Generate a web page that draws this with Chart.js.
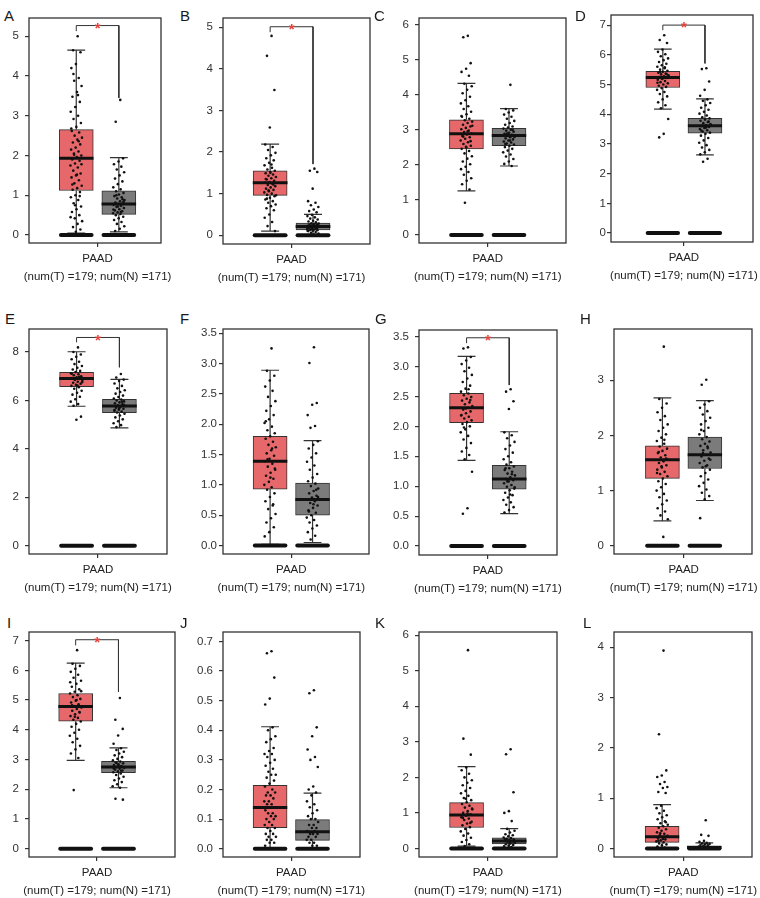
<!DOCTYPE html>
<html><head><meta charset="utf-8">
<script src="https://cdn.jsdelivr.net/npm/chart.js@4.4.1/dist/chart.umd.min.js"></script>
<style>
body{margin:0;background:#fff;width:760px;height:898px;position:relative;overflow:hidden;font-family:'Liberation Sans',Arial,Helvetica,sans-serif;}
canvas{position:absolute;}
.lt{position:absolute;font-size:15px;line-height:15px;color:#1a1a1a;font-family:'Liberation Sans',Arial,sans-serif;}
</style></head><body>
<script>
// ---------- data ----------
const panelLetters = ['A','B','C','D','E','F','G','H','I','J','K','L'];
const xTickLabel = ['PAAD', '(num(T) =179; num(N) =171)'];
const yTickLabels = [
  ['0','1','2','3','4','5'],
  ['0','1','2','3','4','5'],
  ['0','1','2','3','4','5','6'],
  ['0','1','2','3','4','5','6','7'],
  ['0','2','4','6','8'],
  ['0.0','0.5','1.0','1.5','2.0','2.5','3.0','3.5'],
  ['0.0','0.5','1.0','1.5','2.0','2.5','3.0','3.5'],
  ['0','1','2','3'],
  ['0','1','2','3','4','5','6','7'],
  ['0.0','0.1','0.2','0.3','0.4','0.5','0.6','0.7'],
  ['0','1','2','3','4','5','6'],
  ['0','1','2','3','4']
];
const tumorQ1     = [1.12, 0.96, 2.46, 4.90, 6.57, 0.93, 2.06, 1.22, 4.29, 0.071, 0.59, 0.12];
const tumorMedian = [1.93, 1.26, 2.89, 5.24, 6.91, 1.39, 2.31, 1.56, 4.78, 0.139, 0.94, 0.23];
const tumorQ3     = [2.65, 1.55, 3.29, 5.44, 7.16, 1.80, 2.55, 1.81, 5.22, 0.214, 1.29, 0.44];
const tumorLow    = [0.05, 0.10, 1.26, 4.17, 5.76, 0.02, 1.43, 0.45, 2.97, 0, 0.065, 0];
const tumorHigh   = [4.65, 2.19, 4.33, 6.19, 8.01, 2.89, 3.17, 2.68, 6.24, 0.412, 2.30, 0.87];
const normalQ1     = [0.52, 0.13, 2.55, 3.36, 5.50, 0.50, 0.95, 1.40, 2.56, 0.028, 0.13, 0.0];
const normalMedian = [0.78, 0.21, 2.84, 3.61, 5.77, 0.76, 1.12, 1.65, 2.75, 0.057, 0.21, 0.02];
const normalQ3     = [1.11, 0.29, 3.05, 3.86, 6.05, 1.03, 1.35, 1.97, 2.94, 0.098, 0.30, 0.05];
const normalLow    = [0.08, 0, 1.97, 2.63, 4.87, 0.05, 0.54, 0.82, 2.05, 0, 0.02, 0];
const normalHigh   = [1.95, 0.50, 3.61, 4.52, 6.87, 1.73, 1.91, 2.63, 3.39, 0.188, 0.56, 0.11];
// significance bracket (value units): top line, left leg end, right leg end
const sigTop      = [5.27, 5.01, null, 7.00, 8.60, null, 3.48, null, 7.03, null, null, null];
const sigLeftEnd  = [5.13, 4.88, null, 6.83, 8.40, null, 3.39, null, 6.84, null, null, null];
const sigRightEnd = [3.45, 1.71, null, 5.71, 7.37, null, 2.69, null, 5.27, null, null, null];

const tumorPoints = [
  [5.0,4.65,4.6,4.3,4.2,3.95,3.88,3.75,3.6,3.48,3.35,3.22,3.1,3.0,2.92,2.82,2.72,2.62,2.58,2.5,2.45,2.4,2.33,2.28,2.2,2.15,2.1,2.05,2.0,1.96,1.9,1.87,1.8,1.75,1.7,1.62,1.55,1.5,1.45,1.38,1.3,1.24,1.18,1.14,1.08,1.0,0.95,0.88,0.8,0.72,0.65,0.58,0.5,0.42,0.35,0.28,0.2,0.14,0.08,2.68,2.36,2.02,1.78,1.52,1.27,0.98,0.75,0.45,3.52,4.05],
  [4.79,4.31,3.49,2.59,2.18,2.12,2.05,1.98,1.92,1.85,1.8,1.74,1.68,1.62,1.58,1.55,1.52,1.49,1.46,1.43,1.4,1.37,1.34,1.31,1.28,1.26,1.24,1.21,1.18,1.15,1.12,1.09,1.06,1.03,1.0,0.97,0.94,0.9,0.86,0.82,0.78,0.74,0.7,0.65,0.6,0.5,0.42,0.32,0.22,0.1,1.5,1.35,1.22,1.08,0.96,1.7,0.88],
  [5.69,5.65,4.91,4.75,4.66,4.55,4.32,4.25,4.15,4.05,3.95,3.85,3.76,3.68,3.6,3.52,3.45,3.38,3.32,3.28,3.24,3.2,3.15,3.1,3.06,3.02,2.98,2.94,2.9,2.87,2.83,2.79,2.75,2.7,2.65,2.6,2.55,2.5,2.46,2.4,2.33,2.25,2.18,2.1,2.02,1.95,1.88,1.8,1.72,1.62,1.55,1.45,1.3,0.92,3.12,2.96,2.81,2.68,2.52,3.4],
  [6.66,6.5,6.4,6.18,6.1,6.02,5.95,5.88,5.82,5.76,5.7,5.65,5.6,5.55,5.5,5.46,5.43,5.4,5.37,5.34,5.31,5.28,5.25,5.22,5.19,5.16,5.12,5.08,5.04,5.0,4.96,4.92,4.88,4.82,4.75,4.68,4.6,4.5,4.4,4.3,4.2,3.84,3.34,3.22,5.35,5.2,5.06,5.58,5.42],
  [8.19,8.0,7.9,7.8,7.7,7.6,7.5,7.42,7.35,7.28,7.22,7.17,7.12,7.08,7.04,7.0,6.96,6.92,6.89,6.85,6.81,6.77,6.73,6.69,6.65,6.6,6.55,6.48,6.4,6.32,6.24,6.15,6.05,5.95,5.85,5.78,5.33,5.2,7.1,6.98,6.86,6.75,6.62],
  [3.25,2.88,2.8,2.72,2.62,2.55,2.45,2.38,2.3,2.22,2.15,2.08,2.02,1.96,1.9,1.85,1.8,1.76,1.71,1.66,1.62,1.57,1.52,1.48,1.43,1.39,1.35,1.3,1.25,1.2,1.15,1.1,1.05,1.0,0.96,0.92,0.86,0.8,0.73,0.66,0.6,0.52,0.45,0.38,0.3,0.22,0.15,1.6,1.42,1.27,1.12,2.05,0.68],
  [3.32,3.3,3.16,3.1,3.04,2.98,2.92,2.86,2.8,2.74,2.68,2.63,2.58,2.55,2.52,2.49,2.46,2.43,2.4,2.37,2.34,2.31,2.28,2.25,2.22,2.19,2.16,2.13,2.1,2.07,2.04,2.0,1.95,1.9,1.84,1.78,1.72,1.64,1.58,1.52,1.45,1.24,0.63,0.54,2.44,2.3,2.18,2.62,1.98],
  [3.61,2.66,2.58,2.5,2.42,2.35,2.28,2.2,2.14,2.08,2.02,1.96,1.9,1.85,1.8,1.76,1.72,1.68,1.64,1.6,1.56,1.53,1.5,1.46,1.42,1.38,1.34,1.3,1.26,1.22,1.17,1.12,1.06,1.0,0.94,0.88,0.82,0.75,0.68,0.62,0.55,0.48,0.16,1.7,1.58,1.44,1.32,1.92],
  [6.68,6.22,6.15,6.05,5.95,5.85,5.75,5.65,5.55,5.45,5.36,5.28,5.22,5.16,5.1,5.04,4.98,4.92,4.86,4.8,4.75,4.7,4.64,4.58,4.52,4.46,4.4,4.34,4.28,4.2,4.1,4.0,3.9,3.8,3.7,3.58,3.46,3.34,3.2,3.05,1.97,5.3,5.0,4.82,4.6,4.44,5.6],
  [0.667,0.66,0.578,0.507,0.487,0.41,0.4,0.38,0.37,0.36,0.34,0.33,0.32,0.32,0.31,0.3,0.29,0.28,0.27,0.26,0.25,0.25,0.24,0.23,0.22,0.21,0.2,0.19,0.19,0.18,0.18,0.17,0.16,0.16,0.15,0.15,0.14,0.14,0.13,0.12,0.12,0.11,0.11,0.1,0.1,0.09,0.08,0.08,0.07,0.07,0.06,0.05,0.05,0.04,0.04,0.03,0.03,0.02,0.02,0.01],
  [5.58,3.09,2.64,2.28,2.2,2.1,2.0,1.92,1.85,1.78,1.7,1.62,1.55,1.48,1.42,1.36,1.3,1.25,1.2,1.15,1.1,1.05,1.0,0.96,0.92,0.88,0.84,0.8,0.75,0.7,0.65,0.6,0.55,0.48,0.42,0.36,0.3,0.24,0.18,0.12,0.07,1.12,0.98,0.86,0.72,1.4],
  [3.93,2.27,1.55,1.45,1.42,1.32,1.28,1.22,1.2,1.12,1.1,0.85,0.8,0.75,0.7,0.66,0.62,0.58,0.54,0.5,0.47,0.44,0.41,0.38,0.35,0.32,0.29,0.26,0.24,0.22,0.2,0.18,0.16,0.14,0.12,0.1,0.08,0.06,0.04,0.02,0.3,0.25,0.19,0.15,0.52]
];
const normalPoints = [
  [3.4,2.85,1.93,1.85,1.78,1.72,1.65,1.58,1.5,1.42,1.35,1.28,1.2,1.15,1.1,1.06,1.02,0.98,0.95,0.92,0.88,0.85,0.82,0.8,0.78,0.76,0.74,0.71,0.68,0.65,0.62,0.6,0.57,0.55,0.53,0.5,0.46,0.42,0.38,0.33,0.28,0.22,0.16,0.1,0.9,0.72,0.64,0.58,1.0,0.84],
  [1.6,1.55,1.52,1.12,0.82,0.78,0.72,0.68,0.62,0.58,0.55,0.49,0.46,0.43,0.4,0.38,0.35,0.33,0.31,0.29,0.28,0.27,0.26,0.25,0.24,0.23,0.22,0.21,0.2,0.19,0.18,0.17,0.16,0.15,0.14,0.13,0.12,0.11,0.1,0.08,0.06,0.04,0.02,0.2,0.17,0.14,0.11],
  [4.29,3.6,3.56,3.5,3.44,3.38,3.32,3.26,3.2,3.15,3.1,3.07,3.04,3.01,2.98,2.95,2.92,2.89,2.86,2.84,2.82,2.79,2.76,2.73,2.7,2.67,2.64,2.61,2.58,2.55,2.51,2.46,2.41,2.36,2.3,2.24,2.17,2.1,2.03,1.97,2.9,2.8,2.7,2.6,3.0],
  [5.55,5.52,5.1,4.82,4.62,4.5,4.45,4.38,4.3,4.22,4.15,4.08,4.02,3.96,3.9,3.86,3.82,3.78,3.74,3.7,3.66,3.63,3.6,3.57,3.54,3.5,3.46,3.42,3.38,3.34,3.28,3.2,3.12,3.04,2.96,2.88,2.8,2.72,2.65,2.5,2.4,3.65,3.55,3.45,3.75],
  [7.09,6.95,6.86,6.8,6.7,6.6,6.5,6.42,6.35,6.28,6.2,6.14,6.08,6.04,6.0,5.96,5.92,5.88,5.84,5.8,5.77,5.74,5.7,5.66,5.62,5.58,5.54,5.5,5.45,5.38,5.3,5.22,5.14,5.06,4.98,4.9,5.82,5.68,5.6,5.95],
  [3.27,3.01,2.35,2.32,2.15,1.97,1.94,1.72,1.66,1.6,1.52,1.45,1.38,1.32,1.25,1.18,1.12,1.06,1.02,0.98,0.94,0.9,0.86,0.82,0.79,0.76,0.73,0.7,0.66,0.62,0.58,0.54,0.5,0.46,0.42,0.38,0.33,0.28,0.22,0.16,0.1,0.8,0.68,0.56,0.92],
  [2.62,2.58,2.42,2.29,1.9,1.85,1.8,1.74,1.68,1.62,1.56,1.5,1.45,1.4,1.36,1.33,1.3,1.27,1.24,1.21,1.18,1.15,1.12,1.1,1.08,1.05,1.02,0.99,0.96,0.93,0.89,0.85,0.81,0.77,0.73,0.69,0.65,0.6,0.56,1.2,1.08,0.98,0.86,1.3],
  [3.01,2.92,2.62,2.56,2.5,2.44,2.38,2.32,2.26,2.2,2.14,2.08,2.02,1.97,1.93,1.89,1.85,1.81,1.77,1.73,1.69,1.65,1.62,1.58,1.54,1.5,1.46,1.42,1.38,1.32,1.26,1.2,1.14,1.08,1.02,0.96,0.9,0.84,0.5,1.8,1.68,1.56,1.44,2.1],
  [5.07,4.34,4.03,3.81,3.53,3.38,3.32,3.26,3.2,3.14,3.08,3.02,2.97,2.93,2.9,2.87,2.84,2.81,2.78,2.75,2.72,2.69,2.66,2.63,2.6,2.57,2.53,2.48,2.42,2.36,2.3,2.24,2.17,2.1,2.05,1.68,1.65,2.8,2.7,2.62,2.88],
  [0.535,0.525,0.41,0.38,0.335,0.31,0.3,0.276,0.21,0.2,0.19,0.18,0.16,0.15,0.14,0.13,0.12,0.11,0.1,0.1,0.09,0.08,0.08,0.07,0.07,0.06,0.06,0.05,0.05,0.05,0.04,0.04,0.03,0.03,0.02,0.02,0.01,0.01],
  [2.79,2.65,1.58,1.05,1.0,0.77,0.55,0.5,0.45,0.4,0.37,0.34,0.31,0.29,0.27,0.25,0.23,0.21,0.2,0.18,0.16,0.14,0.12,0.1,0.08,0.06,0.04,0.22,0.19,0.15,0.26],
  [0.56,0.27,0.25,0.15,0.13,0.11,0.1,0.09,0.08,0.07,0.06,0.05,0.04,0.03,0.02,0.01]
];

// ---------- layout (positions / styles only) ----------
const frames = [
  [29,18,161,243],[223,18,370,244],[419,18,566,243],[611,15,753,242],
  [29,329,167,554],[223,329,369,554],[419,330,557,555],[614,329,752,554],
  [29,632,175,857],[223,632,360,857],[419,632,557,857],[614,632,752,857]
];
const xRange = [[-0.11,2.99],[-0.10,3.33],[-0.115,3.34],[-0.23,3.14],[-0.11,3.11],[-0.11,3.33],
                [-0.115,3.12],[-0.14,3.11],[-0.09,3.32],[-0.11,3.12],[-0.115,3.12],[-0.14,3.13]];
const yRange = [[-0.20,5.46],[-0.21,5.22],[-0.23,6.2],[-0.30,7.34],[-0.34,8.95],[-0.14,3.57],
                [-0.15,3.61],[-0.15,3.93],[-0.28,7.29],[-0.028,0.732],[-0.24,6.09],[-0.17,4.30]];
const tickPad = [6,6,6,1,6,2,6,6,6,6,6,6];
const letterPos = [[4,8],[180,8],[374,8],[575,8],[5,311],[180,311],[375,311],[580,311],[7,615],[180,615],[375,615],[583,615]];
const RED = '#E7686A', GRAY = '#7B7B7B', INK = '#111111', AXIS = '#333333';
const FONT = "'Liberation Sans', Arial, Helvetica, sans-serif";
const CAP = 0.21, HALF = 0.405, ZHALF = 0.36;

function jitter(i){ return ((i * 0.6180339887) % 1 - 0.5) * 0.28; }

const framePlugin = {
  id: 'frame',
  afterDatasetsDraw(chart, args, opts) {
    const {ctx, chartArea: a, scales} = chart;
    ctx.save();
    ctx.strokeStyle = AXIS; ctx.lineWidth = 1.3;
    ctx.strokeRect(a.left, a.top, a.right - a.left, a.bottom - a.top);
    if (opts.star != null) {
      ctx.fillStyle = '#E8413C';
      ctx.font = 'bold 15px ' + FONT;
      ctx.textAlign = 'center'; ctx.textBaseline = 'middle';
      ctx.fillText('*', scales.x.getPixelForValue(1.5), scales.y.getPixelForValue(opts.star) + 3);
    }
    ctx.restore();
  }
};

panelLetters.forEach((letter, p) => {
  const d = document.createElement('div');
  d.className = 'lt'; d.textContent = letter;
  d.style.left = letterPos[p][0] + 'px'; d.style.top = letterPos[p][1] + 'px';
  document.body.appendChild(d);

  const [L, T, R, B] = frames[p];
  const fw = R - L, fh = B - T;
  const cv = document.createElement('canvas');
  cv.width = fw + 50; cv.height = fh + 60;
  cv.style.left = (L - 40) + 'px'; cv.style.top = (T - 10) + 'px';
  document.body.appendChild(cv);

  const labels = yTickLabels[p];
  const groups = [
    {x: 1, q1: tumorQ1[p], med: tumorMedian[p], q3: tumorQ3[p], lo: tumorLow[p], hi: tumorHigh[p], pts: tumorPoints[p], color: RED},
    {x: 2, q1: normalQ1[p], med: normalMedian[p], q3: normalQ3[p], lo: normalLow[p], hi: normalHigh[p], pts: normalPoints[p], color: GRAY}
  ];
  const datasets = [];
  datasets.push({
    type: 'bar', data: groups.map(g => ({x: g.x, y: [g.q1, g.q3]})),
    backgroundColor: groups.map(g => g.color), borderColor: AXIS, borderWidth: 1,
    borderSkipped: false, barThickness: 34, grouped: false, order: 6
  });
  groups.forEach(g => {
    datasets.push({
      type: 'line',
      data: [{x: g.x - CAP, y: g.hi}, {x: g.x + CAP, y: g.hi}, {x: g.x, y: null},
             {x: g.x, y: g.hi}, {x: g.x, y: g.q3}, {x: g.x, y: null},
             {x: g.x, y: g.q1}, {x: g.x, y: g.lo}, {x: g.x, y: null},
             {x: g.x - CAP, y: g.lo}, {x: g.x + CAP, y: g.lo}],
      borderColor: AXIS, borderWidth: 1.2, pointRadius: 0, spanGaps: false, order: 5
    });
    datasets.push({
      type: 'line', data: [{x: g.x - HALF, y: g.med}, {x: g.x + HALF, y: g.med}],
      borderColor: INK, borderWidth: 3, borderCapStyle: 'butt', pointRadius: 0, order: 3
    });
    datasets.push({
      type: 'scatter', data: g.pts.map((v, i) => ({x: g.x + jitter(i + 1), y: v})),
      backgroundColor: INK, borderWidth: 0, pointRadius: 1.3, order: 2
    });
    datasets.push({
      type: 'line', data: [{x: g.x - ZHALF, y: 0}, {x: g.x + ZHALF, y: 0}],
      borderColor: INK, borderWidth: 4, borderCapStyle: 'round', pointRadius: 0, order: 1
    });
  });
  if (sigTop[p] != null) {
    datasets.push({
      type: 'line',
      data: [{x: 1, y: sigLeftEnd[p]}, {x: 1, y: sigTop[p]}, {x: 2, y: sigTop[p]}, {x: 2, y: sigRightEnd[p]}],
      borderColor: AXIS, borderWidth: 1, pointRadius: 0, order: 0
    });
  }

  new Chart(cv, {
    type: 'bar',
    data: {datasets},
    plugins: [framePlugin],
    options: {
      responsive: false, animation: false, devicePixelRatio: 1,
      layout: {padding: {left: 10, top: 10, right: 10, bottom: 5}},
      plugins: {legend: {display: false}, tooltip: {enabled: false}, title: {display: false},
                frame: {star: sigTop[p]}},
      scales: {
        x: {
          type: 'linear', min: xRange[p][0], max: xRange[p][1], offset: false,
          grid: {offset: false, drawOnChartArea: false, drawTicks: true, tickLength: 4, color: AXIS, lineWidth: 1.2},
          border: {display: false},
          afterBuildTicks: s => { s.ticks = [{value: 1.5}]; },
          afterFit: s => { s.height = 45; s.paddingLeft = 0; s.paddingRight = 0; },
          ticks: {
            autoSkip: false, maxRotation: 0, minRotation: 0, padding: 3, color: '#222',
            font: {family: FONT, size: 11.5, lineHeight: '18px'},
            callback: () => xTickLabel
          }
        },
        y: {
          type: 'linear', min: yRange[p][0], max: yRange[p][1],
          grid: {drawOnChartArea: false, drawTicks: true, tickLength: 4, color: AXIS, lineWidth: 1.2},
          border: {display: false},
          afterBuildTicks: s => { s.ticks = labels.map(l => ({value: parseFloat(l)})); },
          afterFit: s => { s.width = 30; s.paddingTop = 0; s.paddingBottom = 0; },
          ticks: {
            autoSkip: false, padding: tickPad[p], color: '#333',
            font: {family: FONT, size: 11.5},
            callback: (v, i) => labels[i]
          }
        }
      }
    }
  });
});
</script>
</body></html>
